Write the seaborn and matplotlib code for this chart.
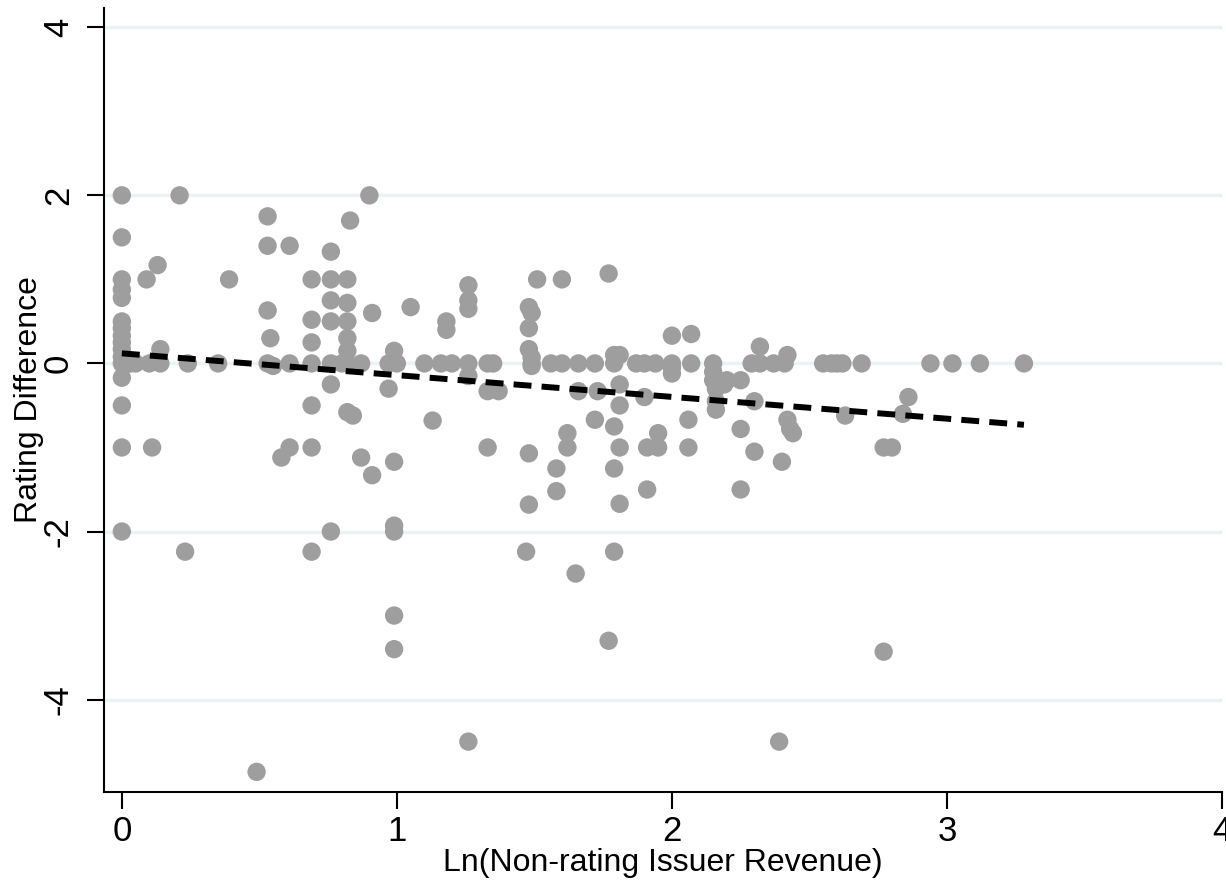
import matplotlib
matplotlib.use("Agg")
import matplotlib.pyplot as plt
import seaborn as sns
import pandas as pd
import numpy as np

# ---- data ----
x_vals = [
    0, 0, 0, 0, 0, 0, 0, 0, 0, 0, 0, 0, 0, 0, 0, 0,
    0.03, 0.05, 0.09, 0.11, 0.13, 0.14, 0.14, 0.10, 0.21, 0.23, 0.24, 0.35, 0.39,
    0.49, 0.53, 0.53, 0.53, 0.54, 0.53, 0.55, 0.58, 0.61, 0.61, 0.61,
    0.69, 0.69, 0.69, 0.69, 0.69, 0.69, 0.69,
    0.76, 0.76, 0.76, 0.76, 0.76, 0.76, 0.76, 0.80,
    0.82, 0.82, 0.82, 0.82, 0.82, 0.82, 0.82, 0.83, 0.84,
    0.87, 0.87, 0.90, 0.91, 0.91,
    0.97, 0.97, 0.99, 0.99, 0.99, 0.99, 0.99, 0.99, 1.00,
    1.05, 1.10, 1.13, 1.16, 1.18, 1.18, 1.20,
    1.26, 1.26, 1.26, 1.26, 1.26, 1.26,
    1.33, 1.33, 1.35, 1.37, 1.33,
    1.48, 1.49, 1.48, 1.48, 1.49, 1.49, 1.49, 1.51, 1.48, 1.48, 1.47,
    1.56, 1.58, 1.58, 1.60, 1.60, 1.62, 1.62, 1.65, 1.66, 1.66,
    1.72, 1.72, 1.73, 1.77, 1.77, 1.79, 1.79, 1.79, 1.79, 1.79,
    1.81, 1.81, 1.81, 1.81, 1.81,
    1.87, 1.90, 1.90, 1.91, 1.91, 1.94, 1.95, 1.95,
    2.00, 2.00, 2.00, 2.00,
    2.07, 2.07, 2.06, 2.06,
    2.15, 2.15, 2.15, 2.16, 2.16, 2.16, 2.19, 2.20,
    2.25, 2.25, 2.25, 2.29, 2.30, 2.30, 2.32, 2.32, 2.37,
    2.41, 2.40, 2.42, 2.42, 2.43, 2.44, 2.39,
    2.55, 2.58, 2.60, 2.62, 2.63, 2.69, 2.77, 2.80, 2.77, 2.84, 2.86,
    2.94, 3.02, 3.12, 3.28,
]
y_vals = [
    2.0, 1.5, 1.0, 0.88, 0.78, 0.5, 0.42, 0.33, 0.25, 0.17, 0.08, 0.0, -0.17, -0.5, -1.0, -2.0,
    0.0, 0.0, 1.0, -1.0, 1.17, 0.17, 0.0, 0.0, 2.0, -2.24, 0.0, 0.0, 1.0,
    -4.86, 1.75, 1.4, 0.63, 0.3, 0.0, -0.03, -1.12, 1.4, 0.0, -1.0,
    1.0, 0.52, 0.25, 0.0, -0.5, -1.0, -2.24,
    1.33, 1.0, 0.75, 0.5, 0.0, -0.25, -2.0, 0.0,
    1.0, 0.72, 0.5, 0.3, 0.15, 0.0, -0.58, 1.7, -0.62,
    -1.12, 0.0, 2.0, 0.6, -1.33,
    0.0, -0.3, 0.15, -1.17, -1.93, -2.0, -3.0, -3.4, 0.0,
    0.67, 0.0, -0.68, 0.0, 0.5, 0.4, 0.0,
    0.93, 0.75, 0.65, 0.0, -0.15, -4.5,
    0.0, -0.33, 0.0, -0.33, -1.0,
    0.67, 0.6, 0.42, 0.17, 0.07, 0.0, -0.03, 1.0, -1.07, -1.68, -2.24,
    0.0, -1.25, -1.52, 1.0, 0.0, -0.83, -1.0, -2.5, 0.0, -0.33,
    0.0, -0.67, -0.33, 1.07, -3.3, 0.1, 0.0, -0.75, -1.25, -2.24,
    0.1, -0.25, -0.5, -1.0, -1.67,
    0.0, 0.0, -0.4, -1.0, -1.5, 0.0, -0.83, -1.0,
    0.33, 0.0, -0.05, -0.12,
    0.35, 0.0, -0.67, -1.0,
    0.0, -0.1, -0.2, -0.3, -0.45, -0.55, -0.25, -0.2,
    -0.2, -0.78, -1.5, 0.0, -0.45, -1.05, 0.2, 0.0, 0.0,
    0.0, -1.17, 0.1, -0.67, -0.78, -0.83, -4.5,
    0.0, 0.0, 0.0, 0.0, -0.62, 0.0, -1.0, -1.0, -3.43, -0.6, -0.4,
    0.0, 0.0, 0.0, 0.0,
]
fit_x = [0.0, 3.28]
fit_y = [0.12, -0.73]

x_ticks = [0, 1, 2, 3, 4]
y_ticks = [-4, -2, 0, 2, 4]
x_label = "Ln(Non-rating Issuer Revenue)"
y_label = "Rating Difference"

df = pd.DataFrame({"x": x_vals, "y": y_vals})
fit_df = pd.DataFrame({"x": fit_x, "y": fit_y})

sns.set_style("white")
plt.rcParams["font.family"] = ["Liberation Sans", "DejaVu Sans"]

fig = plt.figure(figsize=(12.26, 8.82), dpi=100)
ax = fig.add_axes([0.0848, 0.102, 0.9119, 0.889])

for yt in y_ticks:
    ax.axhline(yt, color="#eaf2f3", lw=2.5, zorder=0)

sns.scatterplot(data=df, x="x", y="y", ax=ax, color="#9e9e9e", s=175,
                edgecolor="none", linewidth=0, zorder=2, legend=False)
sns.lineplot(data=fit_df, x="x", y="y", ax=ax, color="black", lw=4.3,
             zorder=3, legend=False)
ax.lines[-1].set_dashes([3.0, 1.7])

ax.set_xlim(-0.065, 4.0)
ax.set_ylim(-5.1, 4.23)
ax.set_xticks(x_ticks)
ax.set_yticks(y_ticks)
ax.set_xticklabels([str(t) for t in x_ticks])
ax.set_yticklabels([str(t) for t in y_ticks], rotation=90, va="center")
ax.tick_params(axis="both", direction="out", length=12, width=1.5,
               labelsize=25, colors="black", labelcolor="black",
               bottom=True, left=True)
ax.tick_params(axis="x", pad=4.5)
ax.tick_params(axis="y", pad=9)
ax.set_xlabel(x_label, fontsize=23, labelpad=0, color="black")
ax.set_ylabel(y_label, fontsize=23, labelpad=-1.5, color="black")

for s in ["top", "right"]:
    ax.spines[s].set_visible(False)
for s in ["left", "bottom"]:
    ax.spines[s].set_color("black")
    ax.spines[s].set_linewidth(1.5)

fig.savefig("out.png", dpi=100)
